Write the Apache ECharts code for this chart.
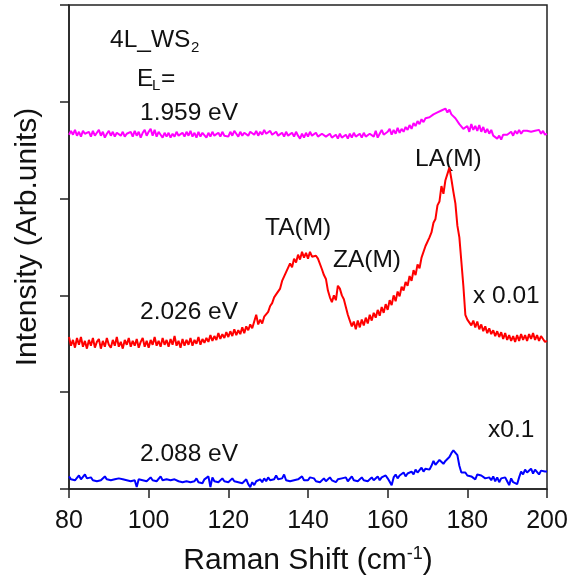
<!DOCTYPE html>
<html>
<head>
<meta charset="utf-8">
<title>4L WS2 Raman spectra</title>
<script src="https://cdn.jsdelivr.net/npm/echarts/dist/echarts.min.js"></script>
<style>
  html, body { margin: 0; padding: 0; background: #fff; }
  #main { width: 568px; height: 581px; }
</style>
</head>
<body>
<div id="main"></div>
<script>
// Raman shift grid (cm^-1): 80 to 200 in 0.5 steps
const shiftStart = 80;
const shiftStep = 0.5;

// Tick labels on the shift axis
const shiftTicks = [80, 100, 120, 140, 160, 180, 200];

// Laser energies for each trace
const laserEnergies = ['1.959 eV', '2.026 eV', '2.088 eV'];

// Offset intensity traces (arb. units), one value per shift step
const trace1959 = [
  3.66,3.70,3.66,3.71,3.65,3.69,3.64,3.70,3.67,3.65,
  3.69,3.64,3.70,3.65,3.68,3.71,3.65,3.69,3.63,3.67,
  3.70,3.65,3.69,3.64,3.68,3.70,3.65,3.69,3.64,3.67,
  3.65,3.69,3.64,3.70,3.65,3.69,3.63,3.68,3.71,3.65,
  3.69,3.72,3.65,3.71,3.64,3.69,3.66,3.63,3.68,3.64,
  3.68,3.63,3.67,3.64,3.69,3.65,3.63,3.68,3.64,3.69,
  3.65,3.70,3.64,3.68,3.63,3.69,3.64,3.68,3.66,3.63,
  3.68,3.64,3.69,3.65,3.63,3.68,3.64,3.69,3.65,3.67,
  3.64,3.69,3.65,3.70,3.67,3.64,3.69,3.65,3.68,3.70,
  3.65,3.69,3.71,3.66,3.70,3.65,3.69,3.66,3.71,3.67,
  3.65,3.70,3.66,3.64,3.69,3.65,3.63,3.68,3.64,3.69,
  3.65,3.63,3.68,3.64,3.69,3.65,3.62,3.67,3.63,3.68,
  3.64,3.69,3.65,3.63,3.68,3.64,3.62,3.67,3.69,3.64,
  3.62,3.67,3.63,3.61,3.66,3.62,3.67,3.63,3.61,3.66,
  3.62,3.67,3.63,3.68,3.64,3.62,3.67,3.63,3.68,3.64,
  3.62,3.67,3.69,3.64,3.70,3.63,3.67,3.71,3.66,3.64,
  3.69,3.72,3.66,3.71,3.67,3.73,3.68,3.72,3.69,3.74,
  3.71,3.76,3.72,3.78,3.75,3.80,3.77,3.82,3.79,3.83,
  3.82,3.84,3.84,3.87,3.87,3.89,3.89,3.91,3.90,3.93,
  3.89,3.92,3.87,3.87,3.83,3.81,3.77,3.76,3.72,3.72,
  3.75,3.69,3.77,3.71,3.75,3.70,3.76,3.69,3.74,3.68,
  3.72,3.67,3.71,3.65,3.66,3.62,3.65,3.61,3.66,3.65,
  3.66,3.66,3.69,3.65,3.70,3.67,3.71,3.67,3.70,3.70,
  3.70,3.69,3.69,3.70,3.70,3.71,3.71,3.67,3.70,3.66,
  3.67
];

const trace2026 = [
  1.57,1.48,1.54,1.46,1.56,1.49,1.57,1.47,1.53,1.45,
  1.54,1.48,1.56,1.46,1.52,1.55,1.45,1.53,1.47,1.56,
  1.49,1.46,1.54,1.48,1.57,1.47,1.52,1.45,1.54,1.49,
  1.56,1.47,1.53,1.48,1.55,1.46,1.52,1.56,1.47,1.53,
  1.46,1.54,1.49,1.57,1.48,1.53,1.47,1.56,1.49,1.54,
  1.47,1.55,1.49,1.58,1.48,1.53,1.46,1.55,1.48,1.54,
  1.49,1.56,1.48,1.54,1.50,1.57,1.49,1.55,1.51,1.56,
  1.52,1.59,1.53,1.58,1.54,1.61,1.55,1.60,1.56,1.62,
  1.57,1.63,1.58,1.65,1.59,1.64,1.60,1.67,1.61,1.68,
  1.64,1.70,1.66,1.73,1.80,1.70,1.75,1.71,1.78,1.80,
  1.83,1.89,1.92,1.98,2.01,2.01,2.07,2.15,2.17,2.24,
  2.25,2.33,2.29,2.38,2.34,2.42,2.37,2.45,2.39,2.44,
  2.38,2.45,2.40,2.39,2.41,2.38,2.39,2.27,2.21,2.17,
  2.05,1.98,1.93,2.00,1.95,2.10,2.07,2.00,1.96,1.88,
  1.80,1.74,1.68,1.73,1.65,1.74,1.67,1.75,1.69,1.77,
  1.71,1.80,1.74,1.82,1.77,1.85,1.79,1.88,1.82,1.91,
  1.85,1.95,1.90,2.00,1.94,2.04,1.99,2.09,2.05,2.14,
  2.10,2.20,2.15,2.26,2.21,2.32,2.28,2.39,2.41,2.51,
  2.52,2.60,2.65,2.75,2.79,2.93,2.97,3.13,3.05,3.19,
  3.20,3.32,3.20,3.07,2.95,2.72,2.60,2.35,2.10,1.80,
  1.75,1.74,1.69,1.74,1.67,1.73,1.65,1.70,1.63,1.68,
  1.61,1.66,1.60,1.64,1.58,1.63,1.57,1.62,1.55,1.61,
  1.54,1.59,1.53,1.58,1.52,1.59,1.53,1.60,1.54,1.59,
  1.53,1.60,1.55,1.61,1.54,1.59,1.53,1.58,1.55,1.52,
  1.53
];

const trace2088 = [
  0.13,0.10,0.12,0.09,0.11,0.14,0.10,0.12,0.15,0.11,
  0.10,0.12,0.09,0.11,0.08,0.10,0.09,0.11,0.13,0.10,
  0.12,0.09,0.11,0.10,0.08,0.11,0.09,0.10,0.08,0.09,
  0.11,0.08,0.10,0.09,0.02,0.10,0.12,0.09,0.11,0.08,
  0.10,0.12,0.09,0.11,0.08,0.10,0.13,0.09,0.11,0.10,
  0.12,0.09,0.11,0.10,0.12,0.08,0.10,0.07,0.09,0.08,
  0.10,0.07,0.09,0.08,0.11,0.07,0.09,0.06,0.10,0.08,
  0.13,0.02,0.12,0.08,0.10,0.07,0.09,0.11,0.08,0.10,
  0.07,0.09,0.11,0.08,0.10,0.07,0.09,0.06,0.08,0.10,
  0.05,0.02,0.07,0.04,0.08,0.06,0.10,0.07,0.11,0.08,
  0.12,0.09,0.07,0.10,0.14,0.10,0.08,0.11,0.15,0.09,
  0.11,0.08,0.10,0.09,0.07,0.10,0.08,0.13,0.09,0.11,
  0.09,0.12,0.10,0.11,0.08,0.10,0.07,0.09,0.11,0.08,
  0.10,0.12,0.09,0.11,0.07,0.10,0.08,0.11,0.09,0.12,
  0.08,0.10,0.13,0.09,0.11,0.08,0.10,0.12,0.09,0.11,
  0.08,0.10,0.12,0.09,0.11,0.13,0.09,0.12,0.10,0.14,
  0.11,0.13,0.04,0.12,0.15,0.11,0.14,0.12,0.17,0.13,
  0.16,0.14,0.18,0.15,0.20,0.17,0.19,0.22,0.18,0.21,
  0.23,0.20,0.24,0.29,0.25,0.27,0.30,0.28,0.26,0.29,
  0.31,0.33,0.37,0.40,0.38,0.35,0.24,0.17,0.15,0.17,
  0.14,0.15,0.13,0.12,0.10,0.15,0.13,0.14,0.12,0.11,
  0.13,0.12,0.09,0.13,0.08,0.12,0.07,0.11,0.09,0.12,
  0.08,0.04,0.11,0.07,0.09,0.05,0.12,0.18,0.15,0.20,
  0.17,0.19,0.21,0.16,0.20,0.18,0.15,0.19,0.17,0.18,
  0.18
];

const traceColors = ['#ff00ff', '#ff0000', '#0000ff'];

function pairUp(values) {
  return values.map((v, i) => [shiftStart + i * shiftStep, v]);
}

const FONT = '"Liberation Sans", Arial, sans-serif';
const INK = '#111';
const AXIS = '#222';

const chart = echarts.init(document.getElementById('main'), null, { renderer: 'canvas' });

function label(text, left, top, size) {
  return {
    type: 'text', left: left, top: top, silent: true,
    style: { text: text, fontSize: size || 24.5, fontFamily: FONT, fill: INK }
  };
}

const option = {
  animation: false,
  backgroundColor: '#fff',
  grid: {
    left: 69, right: 21, top: 5, bottom: 92,
    outerBoundsMode: 'none',
    show: true, borderColor: AXIS, borderWidth: 1.5,
    backgroundColor: 'transparent'
  },
  xAxis: {
    type: 'value', min: 80, max: 200, interval: 20,
    axisLine: { show: true, onZero: false, lineStyle: { color: AXIS, width: 1.5 } },
    axisTick: { show: true, inside: false, length: 9, lineStyle: { color: AXIS, width: 1.5 } },
    axisLabel: {
      fontSize: 25, color: INK, fontFamily: FONT, margin: 20,
      hideOverlap: false,
      formatter: v => shiftTicks.includes(v) ? String(v) : ''
    },
    splitLine: { show: false },
    name: '{t|Raman Shift (cm}{s|-1}{t|)}',
    nameLocation: 'middle', nameGap: 56,
    nameTextStyle: {
      rich: {
        t: { fontSize: 30, color: INK, fontFamily: FONT, lineHeight: 32 },
        s: { fontSize: 18, color: INK, fontFamily: FONT, verticalAlign: 'top', lineHeight: 19 }
      }
    }
  },
  yAxis: {
    type: 'value', min: 0, max: 5, interval: 1,
    axisLine: { show: true, onZero: false, lineStyle: { color: AXIS, width: 1.5 } },
    axisTick: { show: true, inside: false, length: 9, lineStyle: { color: AXIS, width: 1.5 } },
    axisLabel: { show: false },
    splitLine: { show: false },
    name: 'Intensity (Arb.units)',
    nameLocation: 'middle', nameGap: 26,
    nameTextStyle: { fontSize: 30, color: INK, fontFamily: FONT, padding: [0, 0, 0, 20] }
  },
  series: [trace1959, trace2026, trace2088].map((vals, k) => ({
    name: laserEnergies[k],
    type: 'line',
    data: pairUp(vals),
    symbol: 'none',
    smooth: false,
    clip: true,
    lineStyle: { color: traceColors[k], width: 2 },
    z: 3
  })),
  graphic: [
    label('4L_WS', 110, 28),
    label('2', 191, 40, 15),
    label('E', 137, 67),
    label('L', 152, 78, 15),
    label('=', 161, 67),
    label(laserEnergies[0], 140, 101),
    label(laserEnergies[1], 140, 300),
    label(laserEnergies[2], 140, 442),
    label('TA(M)', 265, 216),
    label('ZA(M)', 333, 248),
    label('LA(M)', 415, 147),
    label('x 0.01', 473, 284),
    label('x0.1', 488, 418)
  ]
};

chart.setOption(option);
</script>
</body>
</html>
